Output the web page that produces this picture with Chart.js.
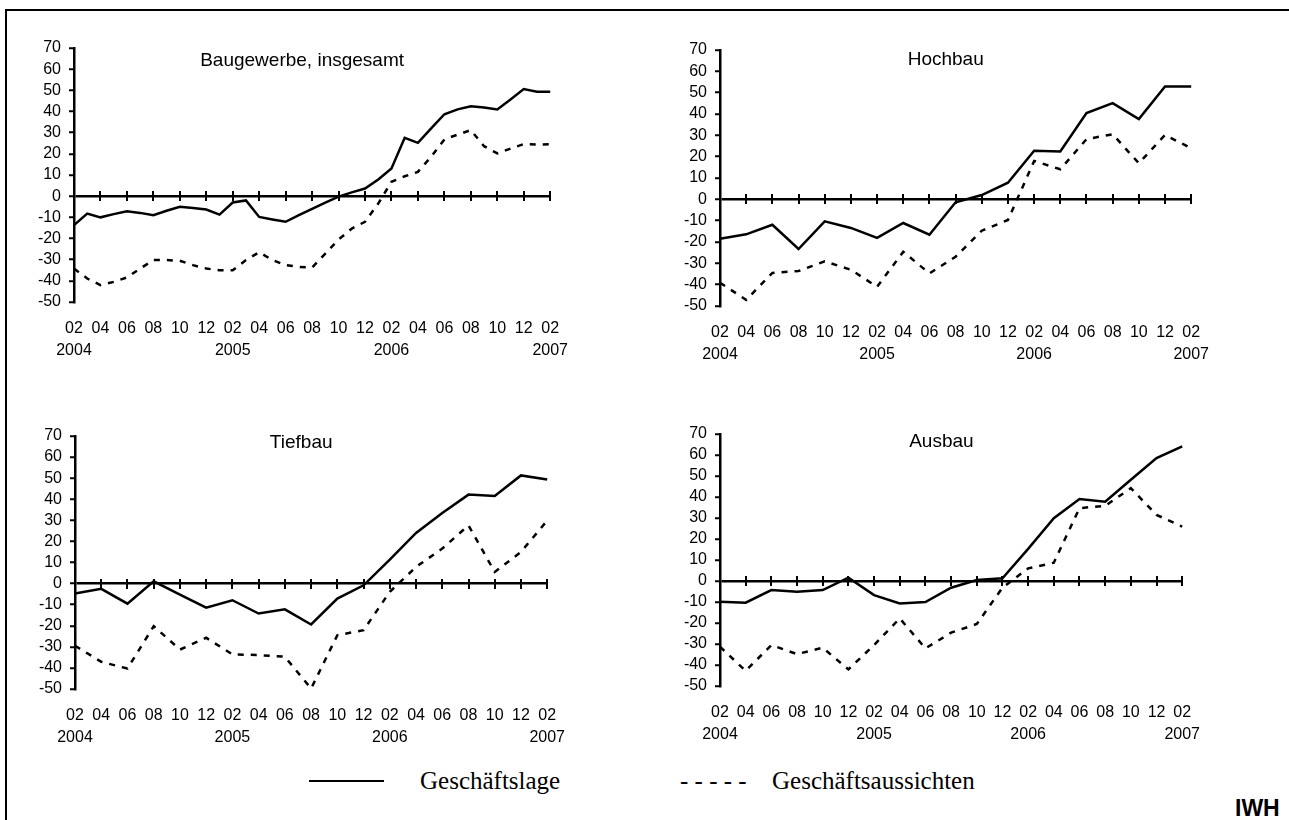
<!DOCTYPE html>
<html>
<head>
<meta charset="utf-8">
<script src="https://cdn.jsdelivr.net/npm/chart.js@4.4.1/dist/chart.umd.min.js"></script>
<style>
  body { margin: 0; width: 1289px; height: 820px; background: #fff; position: relative; overflow: hidden; }
  .frame { position: absolute; left: 5px; top: 9px; width: 1400px; height: 900px; border-top: 2px solid #000; border-left: 2px solid #000; }
  canvas { position: absolute; }
  .leg { position: absolute; font-family: "Liberation Serif", "Times New Roman", serif; font-size: 25px; color: #000; line-height: 1; white-space: nowrap; }
  .legline { position: absolute; height: 0; border-top: 2px solid #000; }
  .iwh { position: absolute; font-family: "Liberation Sans", Arial, sans-serif; font-weight: bold; font-size: 23px; color: #000; line-height: 1; }
</style>
</head>
<body>
<div class="frame"></div>
<canvas id="c1"></canvas>
<canvas id="c2"></canvas>
<canvas id="c3"></canvas>
<canvas id="c4"></canvas>

<div class="legline" style="left:309px; top:780px; width:75px;"></div>
<div class="leg" style="left:420px; top:768px;">Geschäftslage</div>
<div class="leg" style="left:680px; top:768px;">- - - - -</div>
<div class="leg" style="left:772px; top:768px;">Geschäftsaussichten</div>
<div class="iwh" style="left:1235px; top:797px;">IWH</div>

<script>

// =======================
// DATA
// =======================

const monthsMonthly = [
  "02/2004", "03/2004", "04/2004", "05/2004", "06/2004", "07/2004", "08/2004", "09/2004", "10/2004", "11/2004", "12/2004",
  "01/2005", "02/2005", "03/2005", "04/2005", "05/2005", "06/2005", "07/2005", "08/2005", "09/2005", "10/2005", "11/2005", "12/2005",
  "01/2006", "02/2006", "03/2006", "04/2006", "05/2006", "06/2006", "07/2006", "08/2006", "09/2006", "10/2006", "11/2006", "12/2006",
  "01/2007", "02/2007"
];

const monthsBimonthly = [
  "02/2004", "04/2004", "06/2004", "08/2004", "10/2004", "12/2004",
  "02/2005", "04/2005", "06/2005", "08/2005", "10/2005", "12/2005",
  "02/2006", "04/2006", "06/2006", "08/2006", "10/2006", "12/2006",
  "02/2007"
];

const yTicks = { min: -50, max: 70, step: 10 };

// Baugewerbe, insgesamt (monatlich)
const baugewerbeLage = [
  -13.7, -8.2, -10.0, -8.5, -7.1, -7.9, -9.0, -6.9, -5.0, -5.6, -6.3,
  -8.7, -3.0, -2.0, -9.8, -11.0, -12.1, -9.0, -6.0, -3.0, -0.2, 1.8, 3.6,
  7.9, 13.1, 27.6, 25.2, 32.0, 38.7, 41.0, 42.5, 41.9, 41.0, 45.7, 50.6,
  49.3, 49.3
];
const baugewerbeAussichten = [
  -34.2, -38.9, -42.0, -40.5, -38.4, -34.2, -30.2, -30.2, -30.5, -32.6, -34.2,
  -35.0, -35.0, -30.2, -26.5, -30.2, -32.6, -33.4, -33.7, -27.1, -20.5, -15.3, -12.1,
  -3.5, 6.8, 9.4, 11.5, 18.6, 26.8, 29.1, 31.2, 23.6, 20.2, 22.5, 24.6,
  24.4, 24.5
];

// Hochbau (zweimonatlich)
const hochbauLage = [-18.5, -16.4, -11.9, -23.3, -10.3, -13.4, -18.1, -11.1, -16.6, -1.4, 2.0, 7.8, 22.8, 22.4, 40.4, 45.1, 37.6, 52.9, 52.9];
const hochbauAussichten = [-39.1, -47.1, -34.5, -33.6, -29.1, -33.0, -41.0, -24.6, -34.7, -26.9, -14.7, -9.7, 18.0, 14.1, 28.2, 30.5, 16.9, 30.2, 23.9];

// Tiefbau
const tiefbauLage = [-4.7, -2.5, -9.5, 1.1, -5.2, -11.4, -7.9, -14.2, -12.2, -19.4, -7.1, -0.8, 11.4, 24.0, 33.5, 42.2, 41.5, 51.3, 49.4];
const tiefbauAussichten = [-29.5, -37.1, -40.3, -20.2, -31.3, -25.7, -33.6, -33.9, -34.7, -49.8, -24.5, -22.1, -3.9, 7.9, 16.6, 27.6, 5.5, 15.0, 29.9];

// Ausbau
const ausbauLage = [-9.9, -10.3, -4.3, -5.1, -4.3, 1.6, -6.7, -10.7, -10.0, -3.2, 0.5, 1.3, 15.3, 29.9, 39.0, 37.8, 48.2, 58.5, 64.1];
const ausbauAussichten = [-31.3, -42.8, -30.5, -34.8, -31.8, -42.1, -30.5, -17.8, -32.1, -24.6, -20.5, -3.2, 6.0, 8.7, 34.7, 35.8, 44.2, 31.5, 25.9];

// =======================
// PANELS
// =======================

// box = [left, right, top, bottom] of the plot area in page pixels
const panels = [
  { id: "c1", title: "Baugewerbe, insgesamt", labels: monthsMonthly, lage: baugewerbeLage, aus: baugewerbeAussichten, step: 2, box: [74, 560, 48, 302], dy: 13 },
  { id: "c2", title: "Hochbau", labels: monthsBimonthly, lage: hochbauLage, aus: hochbauAussichten, step: 1, box: [720, 1201, 50, 306], dy: 10 },
  { id: "c3", title: "Tiefbau", labels: monthsBimonthly, lage: tiefbauLage, aus: tiefbauAussichten, step: 1, box: [75, 557, 436, 689], dy: 7 },
  { id: "c4", title: "Ausbau", labels: monthsBimonthly, lage: ausbauLage, aus: ausbauAussichten, step: 1, box: [720, 1192, 434, 686], dy: 8 }
];

Chart.defaults.font.family = '"Liberation Sans", Arial, sans-serif';
Chart.defaults.color = "#000";

// ticks crossing the zero line + panel title
const zeroLine = {
  id: "zeroLine",
  afterDraw(chart, args, opts) {
    const xs = chart.scales.x;
    const ys = chart.scales.y;
    const ctx = chart.ctx;
    const y0 = Math.round(ys.getPixelForValue(0));
    const n = chart.data.labels.length;

    ctx.save();
    ctx.strokeStyle = "#000";
    ctx.lineWidth = 2;
    for (let i = opts.step; i < n; i += opts.step) {
      const px = Math.round(xs.getPixelForValue(i));
      ctx.beginPath();
      ctx.moveTo(px, y0 - 5);
      ctx.lineTo(px, y0 + 5);
      ctx.stroke();
    }

    const a = chart.chartArea;
    ctx.font = '19px "Liberation Sans", Arial, sans-serif';
    ctx.fillStyle = "#000";
    ctx.textAlign = "center";
    ctx.textBaseline = "middle";
    ctx.fillText(opts.title, a.left + 0.479 * (a.right - a.left), a.top + opts.dy);
    ctx.restore();
  }
};

const PAD_L = 60, PAD_R = 24, PAD_T = 20, PAD_B = 64;

function makePanel(p) {
  const [l, r, t, b] = p.box;
  const cv = document.getElementById(p.id);
  cv.width = r - l + PAD_L + PAD_R;
  cv.height = b - t + PAD_T + PAD_B;
  cv.style.left = (l - PAD_L) + "px";
  cv.style.top = (t - PAD_T) + "px";

  return new Chart(cv.getContext("2d"), {
    type: "line",
    data: {
      labels: p.labels,
      datasets: [{
        label: "Geschäftslage",
        data: p.lage,
        borderColor: "#000",
        borderWidth: 2.5,
        pointRadius: 0,
        tension: 0
      }, {
        label: "Geschäftsaussichten",
        data: p.aus,
        borderColor: "#000",
        borderWidth: 2.5,
        borderDash: [6, 7],
        pointRadius: 0,
        tension: 0
      }]
    },
    options: {
      responsive: false,
      animation: false,
      devicePixelRatio: 1,
      layout: { padding: { left: 0, right: PAD_R, top: PAD_T, bottom: 0 } },
      plugins: {
        legend: { display: false },
        tooltip: { enabled: false },
        zeroLine: { step: p.step, title: p.title, dy: p.dy }
      },
      scales: {
        x: {
          type: "category",
          offset: false,
          grid: { display: false, drawTicks: false },
          border: { display: false },
          afterFit: s => { s.height = PAD_B; },
          ticks: {
            autoSkip: false,
            maxRotation: 0,
            minRotation: 0,
            padding: 16,
            font: { size: 16, lineHeight: 1.34 },
            callback: function (value, index) {
              if (index % p.step !== 0) return "";
              const [mm, yyyy] = p.labels[index].split("/");
              return mm === "02" ? [mm, yyyy] : [mm, ""];
            }
          }
        },
        y: {
          min: yTicks.min,
          max: yTicks.max,
          afterFit: s => { s.width = PAD_L; },
          ticks: { stepSize: yTicks.step, autoSkip: false, padding: 8, font: { size: 16 } },
          grid: {
            color: c => (c.tick && c.tick.value === 0 ? "#000" : "rgba(0,0,0,0)"),
            lineWidth: 2.5,
            tickColor: "#000",
            tickWidth: 2,
            tickLength: 5
          },
          border: { display: true, color: "#000", width: 2.5 }
        }
      }
    },
    plugins: [zeroLine]
  });
}

panels.forEach(makePanel);

</script>
</body>
</html>
